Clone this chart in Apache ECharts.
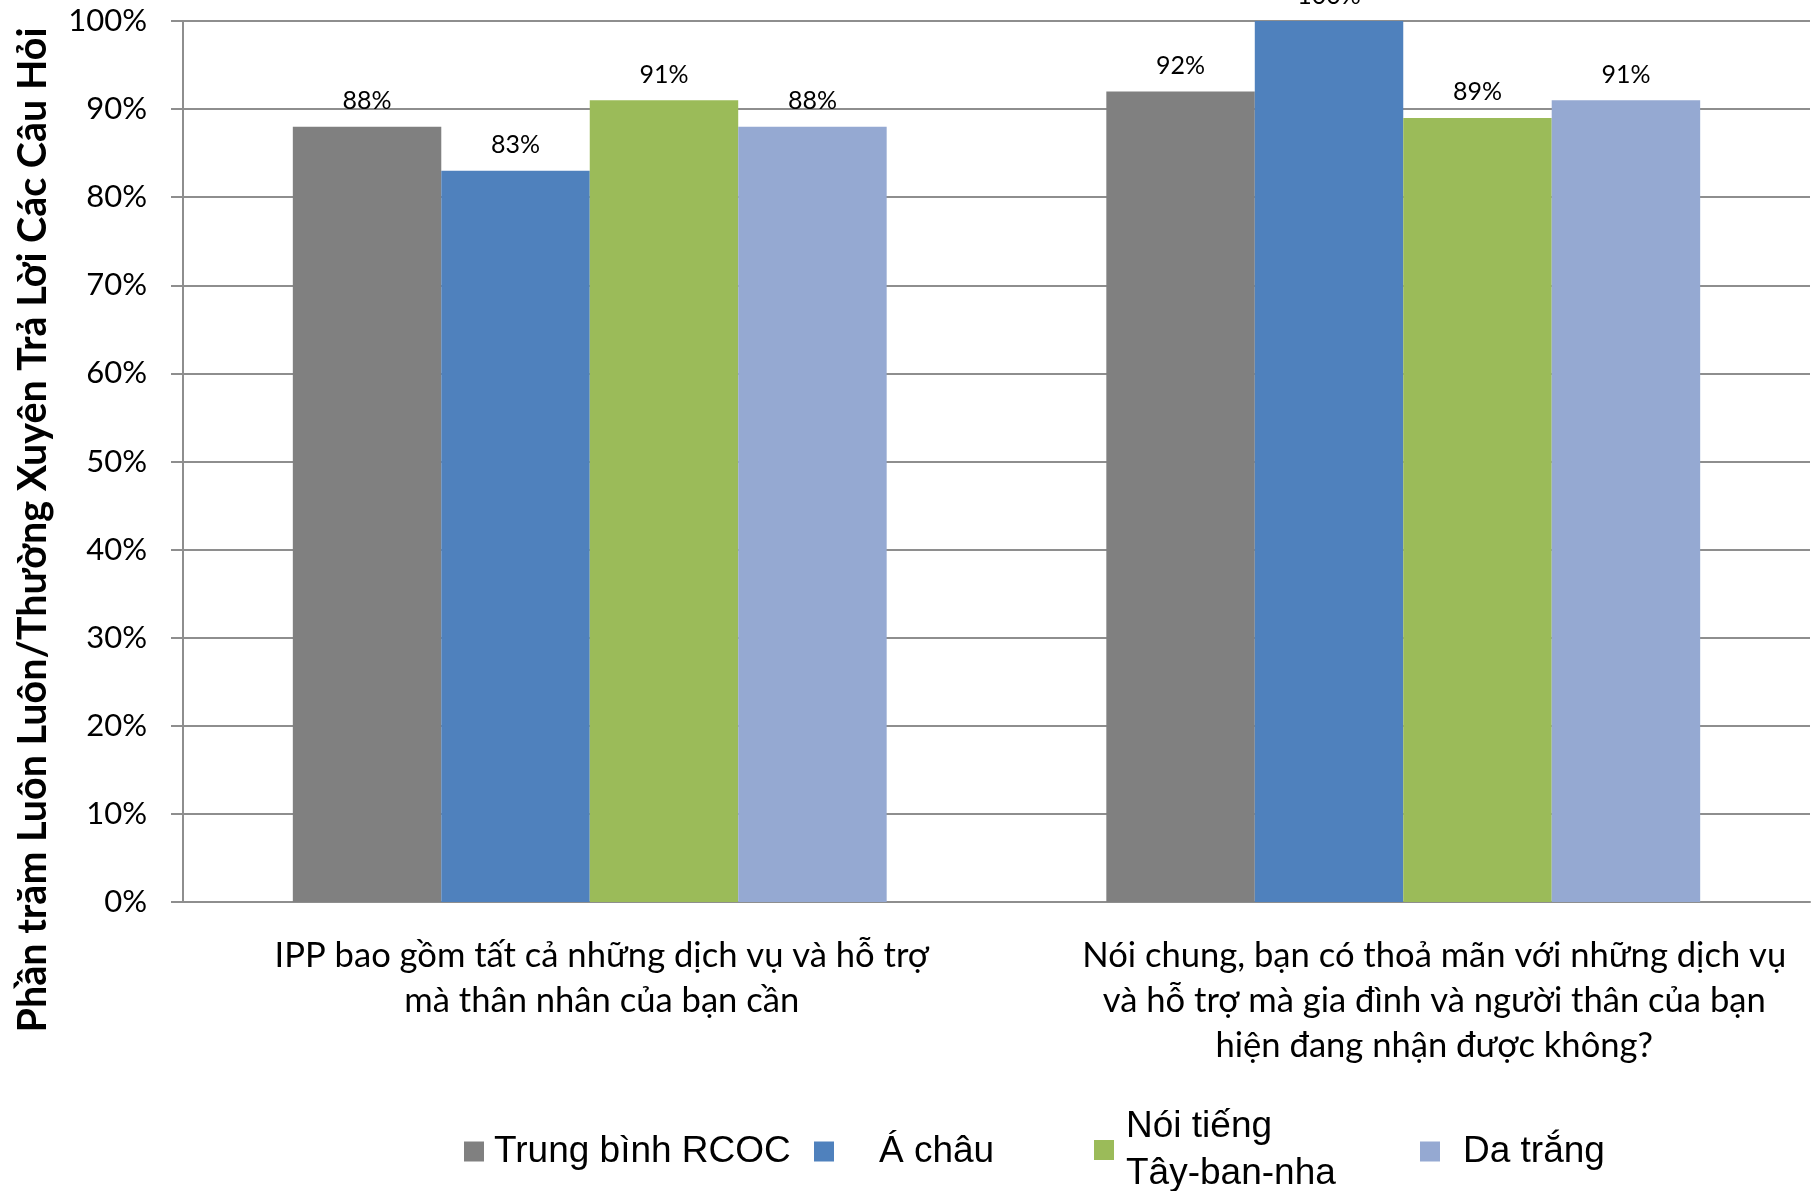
<!DOCTYPE html>
<html>
<head>
<meta charset="utf-8">
<script src="https://cdn.jsdelivr.net/npm/echarts@6/dist/echarts.min.js"></script>
<style>html,body{margin:0;padding:0;background:#fff}#c{width:1819px;height:1191px}</style>
</head>
<body>
<div id="c"></div>
<script>
const categories = [
  'IPP bao gồm tất cả những dịch vụ và hỗ trợ\nmà thân nhân của bạn cần',
  'Nói chung, bạn có thoả mãn với những dịch vụ\nvà hỗ trợ mà gia đình và người thân của bạn\nhiện đang nhận được không?'
];
const seriesNames = ['Trung bình RCOC', 'Á châu', 'Nói tiếng Tây-ban-nha', 'Da trắng'];
const rcoc = [88, 92];
const asian = [83, 100];
const hispanic = [91, 89];
const white = [88, 91];
const yTicks = [0, 10, 20, 30, 40, 50, 60, 70, 80, 90, 100];
const yAxisTitle = 'Phần trăm Luôn Luôn/Thường Xuyên Trả Lời Các Câu Hỏi';
const colors = ['#808080', '#4f81bd', '#9bbb59', '#95a9d2'];

const chart = echarts.init(document.getElementById('c'));
const values = [rcoc, asian, hispanic, white];
const series = seriesNames.map((n, i) => ({
  name: n,
  type: 'bar',
  data: values[i],
  barGap: '0%',
  barCategoryGap: '27%',
  itemStyle: { color: colors[i] },
  label: {
    show: true, position: 'top', distance: 13,
    formatter: '{c}%', color: '#000',
    fontFamily: 'Lato', fontSize: 25
  }
}));
const labelShift = [24, 62];
const legendCfg = [
  { name: seriesNames[0], left: 464, top: 1128, pad: [0,0,0,5] },
  { name: seriesNames[1], left: 814, top: 1128, pad: [0,0,0,40] },
  { name: seriesNames[2], left: 1094, top: 1103, pad: [0,0,0,7] },
  { name: seriesNames[3], left: 1420, top: 1128, pad: [0,0,0,18] }
];
chart.setOption({
  animation: false,
  backgroundColor: '#fff',
  grid: { left: 183, right: 9, top: 21, bottom: 289, containLabel: false },
  legend: legendCfg.map(l => ({
    data: [l.name], left: l.left, top: l.top, padding: 0,
    icon: 'rect', itemWidth: 20, itemHeight: 20, itemGap: 0,
    formatter: n => n === 'Nói tiếng Tây-ban-nha' ? 'Nói tiếng\nTây-ban-nha' : n,
    textStyle: { fontFamily: 'Liberation Sans', fontSize: 37, color: '#000', lineHeight: 47, padding: l.pad }
  })),
  xAxis: {
    type: 'category',
    data: categories.map((c, i) => ({ value: c, textStyle: { padding: [0, 0, 0, labelShift[i]] } })),
    axisLine: { lineStyle: { color: '#8e8e8e', width: 2 } },
    axisTick: { show: false },
    axisLabel: { interval: 0, margin: 31, fontFamily: 'Lato', fontSize: 34.6, lineHeight: 45, color: '#000' }
  },
  yAxis: {
    type: 'value', min: 0, max: 100, interval: 10,
    axisLine: { show: true, lineStyle: { color: '#8e8e8e', width: 2 } },
    axisTick: { show: true, length: 12, lineStyle: { color: '#8e8e8e', width: 2 } },
    splitLine: { lineStyle: { color: '#8e8e8e', width: 2 } },
    axisLabel: {
      margin: 36, fontFamily: 'Lato', fontSize: 31, color: '#000',
      formatter: v => yTicks.includes(v) ? v + '%' : ''
    }
  },
  graphic: [{
    type: 'text', x: 33, y: 530, rotation: Math.PI / 2,
    style: {
      text: yAxisTitle, fontFamily: 'Lato', fontWeight: 'bold', fontSize: 39.5,
      fill: '#000', align: 'center', verticalAlign: 'middle'
    }
  }],
  series: series
});
</script>
</body>
</html>
